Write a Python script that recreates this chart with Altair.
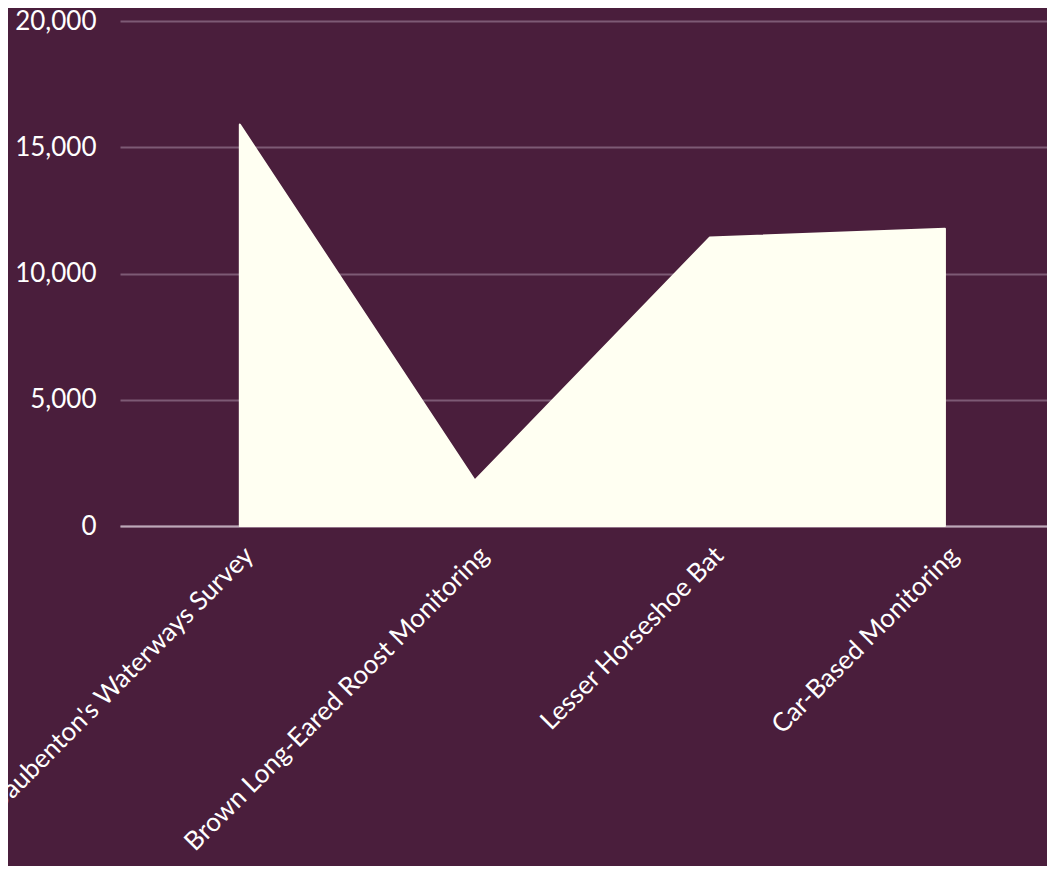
import altair as alt
import pandas as pd

categories = [
    "Daubenton's Waterways Survey",
    "Brown Long-Eared Roost Monitoring",
    "Lesser Horseshoe Bat",
    "Car-Based Monitoring",
]
values = [15900, 1800, 11430, 11770]

df = pd.DataFrame({"survey": categories, "count": values})

BG = "#4a1e3c"
FILL = "#fffff2"
FONT = "Lato"

chart = (
    alt.Chart(df)
    .mark_area(color=FILL, stroke=FILL, strokeWidth=2, strokeJoin="round", opacity=1)
    .encode(
        x=alt.X(
            "survey:N",
            sort=categories,
            scale=alt.Scale(type="point", padding=0.472, align=0.54),
            axis=alt.Axis(
                title=None,
                labelAngle=-45,
                labelAlign="right",
                labelBaseline="middle",
                labelFontSize=26,
                labelFont=FONT,
                labelColor="#ffffff",
                labelPadding=25,
                labelOffset=9,
                ticks=False,
                domain=True,
                domainColor="#bda8b8",
                domainWidth=2,
                grid=False,
                labelOverlap=False,
                labelLimit=0,
            ),
        ),
        y=alt.Y(
            "count:Q",
            scale=alt.Scale(domain=[0, 20000]),
            axis=alt.Axis(
                title=None,
                values=[0, 5000, 10000, 15000, 20000],
                format=",.0f",
                labelFontSize=26,
                labelFont=FONT,
                labelColor="#ffffff",
                labelPadding=24,
                ticks=False,
                domain=False,
                gridColor="#7d5a75",
                gridWidth=2,
            ),
        ),
    )
    .properties(
        width=927,
        height=505,
        background=BG,
        padding={"left": 112, "top": 13, "right": 0, "bottom": 340},
        autosize=alt.AutoSizeParams(type="none"),
    )
    .configure_view(stroke=None)
)

chart.save("out.html", embed_options={"renderer": "svg", "actions": False})
